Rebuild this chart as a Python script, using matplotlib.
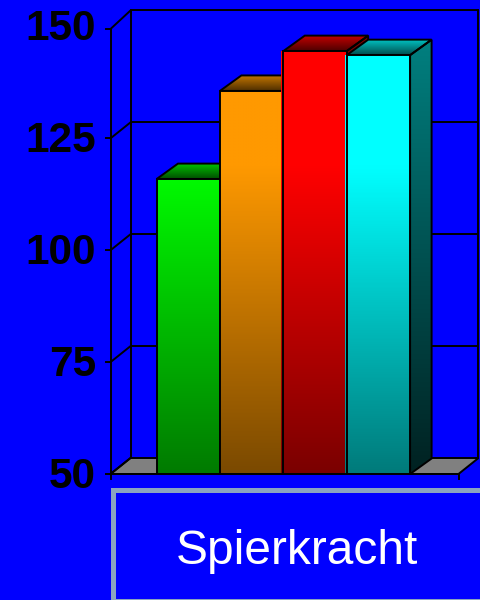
import numpy as np
import matplotlib
matplotlib.use("Agg")
import matplotlib.pyplot as plt
from matplotlib.patches import Polygon, Rectangle
from matplotlib.colors import LinearSegmentedColormap
from matplotlib.transforms import ScaledTranslation

# Data
series_names = ["Groep 1", "Groep 2", "Groep 3", "Groep 4"]
values = [115.9, 135.6, 144.5, 143.6]
yticks = [50, 75, 100, 125, 150]
category = "Spierkracht"

# Style
colors = [(0, 1, 0), (1, 0.6, 0), (1, 0, 0), (0, 1, 1)]
BG = "#0000ff"
W, H = 481, 600
plt.rcParams["font.family"] = ["Liberation Sans", "DejaVu Sans"]

fig = plt.figure(figsize=(W / 100, H / 100), dpi=100, facecolor=BG)
L, R, T, B = 110.5, 458.5, 26.5, 474.0
ax = fig.add_axes([L / W, 1 - B / H, (R - L) / W, (B - T) / H], facecolor="none")
bar_w_px = 63.4
x0_px = 156.5
xlim = ((L - x0_px) / bar_w_px, (R - x0_px) / bar_w_px)
ax.set_xlim(*xlim)
ax.set_ylim(50, 150)
px_y = 100 / (B - T)
px_x = 1 / bar_w_px
wdx, wdy = 20 * px_x, 16 * px_y    # wall depth
bdx, bdy = 21.5 * px_x, 15.5 * px_y  # bar depth
for s in ax.spines.values():
    s.set_visible(False)
ax.set_xticks([])
ax.set_yticks(yticks)
ax.set_yticklabels([str(v) for v in yticks], fontsize=30.5, fontweight="bold", color="black",
                   va="center")
ax.tick_params(axis="y", length=0, pad=10.5)
for lab in ax.get_yticklabels():
    lab.set_transform(lab.get_transform() + ScaledTranslation(0, -3 / 100, fig.dpi_scale_trans))
LW = 1.4
ln = dict(color="black", lw=LW, clip_on=False, solid_capstyle="projecting")
xa, xb = xlim
top_tick = 150 - 2.5 * px_y  # the uppermost front tick sits slightly low in the reference

# floor
ax.add_patch(Polygon([(xa, 50), (xa + wdx, 50 + wdy), (xb + wdx, 50 + wdy), (xb, 50)],
                     closed=True, fc="#808080", ec="black", lw=LW, clip_on=False, zorder=1))
# walls
ax.plot([xa + wdx] * 2, [50 + wdy, 150 + wdy], zorder=1, **ln)
ax.plot([xb + wdx] * 2, [50 + wdy, 150 + wdy], zorder=1, **ln)
ax.plot([xa, xa], [50, top_tick], zorder=1, **ln)
ax.plot([xa, xb], [50, 50], zorder=8, **ln)
tick_x = 5 * px_x
for v in yticks:
    front = min(v, top_tick)
    ax.plot([xa - tick_x, xa], [front, front], zorder=1, **ln)
    ax.plot([xa, xa + wdx], [front, v + wdy], zorder=1, **ln)
    if v > 50:
        ax.plot([xa + wdx, xb + wdx], [v + wdy, v + wdy], zorder=1, **ln)
ax.plot([xa, xa], [50, 50 - 5 * px_y], zorder=1, **ln)
ax.plot([xb, xb], [50, 50 - 5 * px_y], zorder=1, **ln)


def shade(c, f):
    return tuple(a * f for a in c)


def grad(poly, c_top, c_bot, z, edge=True, fade_from=None):
    ys = [p[1] for p in poly]
    xs = [p[0] for p in poly]
    lo, hi = min(ys), max(ys)
    cmap = LinearSegmentedColormap.from_list("g", [c_bot, c_top])
    t = np.linspace(1, 0, 256)
    if fade_from is not None:
        v = lo + t * (hi - lo)
        t = np.clip((v - 50) / (fade_from - 50), 0, 1)
    im = ax.imshow(t[:, None], cmap=cmap, vmin=0, vmax=1, aspect="auto",
                   extent=(min(xs), max(xs), lo, hi), zorder=z, interpolation="bilinear")
    im.set_clip_path(Polygon(poly, closed=True, transform=ax.transData))
    if edge:
        ax.add_patch(Polygon(poly, closed=True, fc="none", ec="black", lw=LW, zorder=z + 0.1,
                             clip_on=False, joinstyle="miter"))


FADE = 119  # front faces stay at full colour above this level
for i, (v, c) in enumerate(zip(values, colors)):
    z = 2 + i
    l, r = i, i + 1
    grad([(r, 50), (r + bdx, 50 + bdy), (r + bdx, v + bdy), (r, v)], shade(c, 0.5), shade(c, 0.13), z)
    grad([(l, v), (l + bdx, v + bdy), (r + bdx, v + bdy), (r, v)], shade(c, 0.78), shade(c, 0.3), z)
    if i >= 2:  # thin coloured rim left of the outline
        grad([(l - 2 * px_x, 50), (l - 2 * px_x, v), (l, v), (l, 50)], c, shade(c, 0.48), z + 0.15,
             edge=False, fade_from=FADE)
    grad([(l, 50), (l, v), (r, v), (r, 50)], c, shade(c, 0.48), z + 0.2, fade_from=FADE)

ax.set_xlim(*xlim)
ax.set_ylim(50, 150)

# category box
tf = fig.transFigure
fig.add_artist(Rectangle((113.3 / W, 1 - 601 / H), 370 / W, 111 / H, transform=tf,
                         fc=BG, ec="#8aa4c0", lw=3.6))
fig.text(297 / W, 1 - 551.5 / H, category, color="white", fontsize=34.5, ha="center", va="center")

fig.savefig("out.png", dpi=100, facecolor=BG)
